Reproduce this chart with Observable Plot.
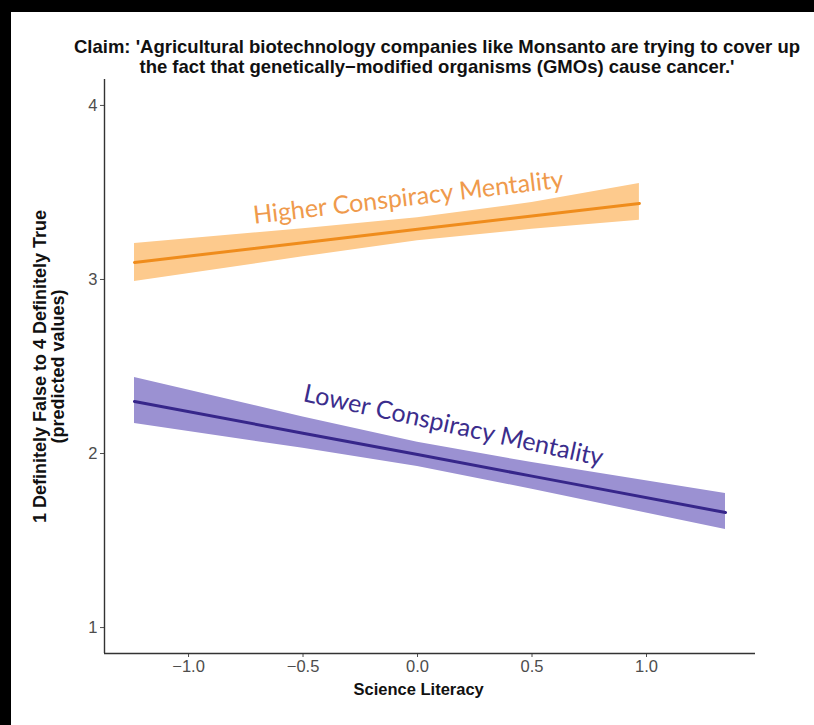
<!DOCTYPE html>
<html>
<head>
<meta charset="utf-8">
<script src="https://cdn.jsdelivr.net/npm/d3@7"></script>
<script src="https://cdn.jsdelivr.net/npm/@observablehq/plot@0.6"></script>
<style>
  html, body { margin: 0; padding: 0; background: #000; }
  #page { position: relative; width: 814px; height: 725px; overflow: hidden; background: #000; }
  #panel { position: absolute; left: 11px; top: 12px; right: 0; bottom: 0; background: #fff; }
  #title { position: absolute; left: 0; top: 37px; width: 874px; text-align: center;
           font-family: "Liberation Sans", Arial, sans-serif; font-weight: bold; font-size: 18.5px;
           line-height: 20px; color: #111; white-space: nowrap; }
  #chart { position: absolute; left: 0; top: 76px; }
</style>
</head>
<body>
<div id="page">
  <div id="panel"></div>
  <div id="title">Claim: 'Agricultural biotechnology companies like Monsanto are trying to cover up<br>the fact that genetically−modified organisms (GMOs) cause cancer.'</div>
  <div id="chart"></div>
</div>
<script>
// Higher conspiracy mentality (orange)
const higherX    = [-1.236, -0.5, 0.0, 0.5, 0.969];
const higherFit  = [3.098, 3.211, 3.288, 3.365, 3.437];
const higherLow  = [2.989, 3.130, 3.222, 3.288, 3.340];
const higherHigh = [3.207, 3.292, 3.354, 3.442, 3.552];

// Lower conspiracy mentality (purple)
const lowerX    = [-1.236, -0.5, 0.0, 0.5, 1.345];
const lowerFit  = [2.299, 2.117, 1.994, 1.870, 1.661];
const lowerLow  = [2.172, 2.030, 1.925, 1.795, 1.563];
const lowerHigh = [2.437, 2.210, 2.065, 1.948, 1.770];

const xTicks = [-1.0, -0.5, 0.0, 0.5, 1.0];
const yTicks = [1, 2, 3, 4];
const groupLabels = ["Higher Conspiracy Mentality", "Lower Conspiracy Mentality"];
const xTitle = "Science Literacy";
const yTitle = "1 Definitely False to 4 Definitely True\n(predicted values)";

const higher = higherX.map((x, i) => ({x, fit: higherFit[i], lo: higherLow[i], hi: higherHigh[i]}));
const lower  = lowerX.map((x, i) => ({x, fit: lowerFit[i], lo: lowerLow[i], hi: lowerHigh[i]}));

const xDomain = [-1.367, 1.476];
const yDomain = [0.851, 4.149];

const chart = Plot.plot({
  width: 814,
  height: 649,
  marginLeft: 104,
  marginRight: 59,
  marginTop: 3,
  marginBottom: 72,
  style: {background: "transparent", fontFamily: "'Liberation Sans', Arial, sans-serif", fontSize: "16px"},
  x: {domain: xDomain},
  y: {domain: yDomain},
  marks: [
    Plot.areaY(higher, {x: "x", y1: "lo", y2: "hi", fill: "#fdca8d"}),
    Plot.areaY(lower, {x: "x", y1: "lo", y2: "hi", fill: "#9b91d2"}),
    Plot.lineY(higher, {x: "x", y: "fit", stroke: "#ef8c1c", strokeWidth: 3}),
    Plot.lineY(lower, {x: "x", y: "fit", stroke: "#36268a", strokeWidth: 3}),
    Plot.text([groupLabels[0]], {x: -0.04, y: 3.47, text: d => d, rotate: -6.7, fill: "#ef9a4c",
      fontFamily: "Lato, 'Open Sans', sans-serif", fontSize: 25}),
    Plot.text([groupLabels[1]], {x: 0.157, y: 2.16, text: d => d, rotate: 12.3, fill: "#3b2d8c",
      fontFamily: "Lato, 'Open Sans', sans-serif", fontSize: 25}),
    Plot.axisX({ticks: xTicks, tickFormat: d3.format(".1f"), tickSize: 4, tickPadding: 3,
      color: "#4d4d4d", label: null, fontSize: 16.5}),
    Plot.axisY({ticks: yTicks, tickFormat: d3.format("d"), tickSize: 4, tickPadding: 3,
      color: "#4d4d4d", label: null, fontSize: 16.5}),
    Plot.ruleX([xDomain[0]], {stroke: "#333", strokeWidth: 1.4}),
    Plot.ruleY([yDomain[0]], {stroke: "#333", strokeWidth: 1.4}),
    Plot.text([xTitle], {x: 0.005, frameAnchor: "bottom", dy: 41, text: d => d,
      fontWeight: "bold", fontSize: 16.5, fill: "#111"}),
    Plot.text([yTitle], {frameAnchor: "left", textAnchor: "middle", dx: -55, text: d => d, rotate: -90,
      fontWeight: "bold", fontSize: 18, fill: "#111", lineHeight: 0.95})
  ]
});
document.getElementById("chart").appendChild(chart);
</script>
</body>
</html>
